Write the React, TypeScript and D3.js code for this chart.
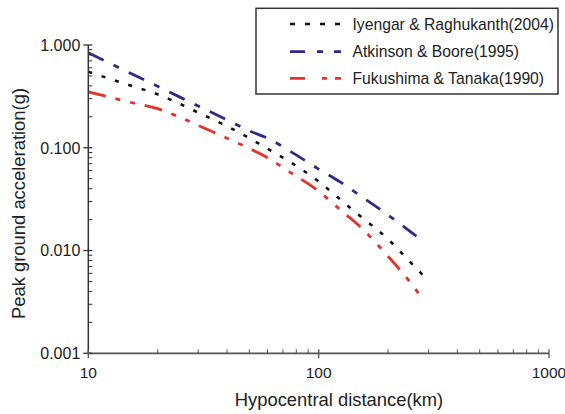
import React from "react";
import * as d3 from "d3";

const distances = [10, 12, 15, 20, 25, 30, 40, 50, 60, 75, 100, 125, 150, 200, 250, 285];
const iyengar = [0.55, 0.48, 0.408, 0.331, 0.267, 0.22, 0.162, 0.124, 0.098, 0.073, 0.047, 0.031, 0.022, 0.0129, 0.0077, 0.0057];
const atkinson = [0.84, 0.69, 0.54, 0.396, 0.311, 0.255, 0.187, 0.146, 0.124, 0.093, 0.062, 0.046, 0.0347, 0.0222, 0.0153, 0.0122];
const fukushima = [0.35, 0.316, 0.279, 0.24, 0.198, 0.165, 0.124, 0.0985, 0.08, 0.058, 0.0377, 0.0246, 0.0174, 0.0088, 0.0049, 0.0033];

const seriesNames = ["Iyengar & Raghukanth(2004)", "Atkinson & Boore(1995)", "Fukushima & Tanaka(1990)"];
const yTickValues = [0.001, 0.01, 0.1, 1];
const yTickLabels = ["0.001", "0.010", "0.100", "1.000"];
const xTickValues = [10, 100, 1000];
const xTickLabels = ["10", "100", "1000"];

const W = 565, H = 414;
const font = "'Liberation Sans', Arial, Helvetica, sans-serif";

export default function App() {
  const x = d3.scaleLog().domain([10, 1000]).range([88.3, 549]);
  const y = d3.scaleLog().domain([0.001, 1]).range([353.3, 45]);

  const series = [
    { name: seriesNames[0], values: iyengar, color: "#111111", dash: "4,10", width: 2.6 },
    { name: seriesNames[1], values: atkinson, color: "#2e2a8a", dash: "17,11,6,11", width: 2.8 },
    { name: seriesNames[2], values: fukushima, color: "#e5322b", dash: "18,10,5,10,5,10", width: 2.8 },
  ];

  const line = d3
    .line<[number, number]>()
    .x((d) => x(d[0]))
    .y((d) => y(d[1]))
    .curve(d3.curveMonotoneX);

  const minorX: number[] = [];
  for (const dec of [10, 100]) for (let k = 2; k <= 9; k++) minorX.push(dec * k);
  const minorY: number[] = [];
  for (const dec of [0.001, 0.01, 0.1]) for (let k = 2; k <= 9; k++) minorY.push(dec * k);

  const axisColor = "#555";
  const x0 = x(10);
  const y0 = y(0.001);

  return (
    <svg width={W} height={H} style={{ position: "absolute", left: 0, top: 0, background: "#fff" }} fontFamily={font}>
      {series.map((s) => (
        <path
          key={s.name}
          d={line(distances.map((d, i) => [d, s.values[i]] as [number, number])) || ""}
          fill="none"
          stroke={s.color}
          strokeWidth={s.width}
          strokeDasharray={s.dash}
        />
      ))}

      <line x1={x0} x2={x0} y1={y(1)} y2={y0} stroke="#333" strokeWidth={1.5} />
      <line x1={x0} x2={x(1000)} y1={y0} y2={y0} stroke={axisColor} strokeWidth={1.8} />

      {yTickValues.map((v, i) => (
        <g key={"yt" + v}>
          <line x1={x0 - 5} x2={x0 + 4} y1={y(v)} y2={y(v)} stroke="#333" strokeWidth={1.3} />
          <text x={x0 - 8} y={y(v)} dy="0.36em" textAnchor="end" fontSize={16} fill="#222">
            {yTickLabels[i]}
          </text>
        </g>
      ))}
      {minorY.map((v) => (
        <line key={"ym" + v} x1={x0} x2={x0 + 4} y1={y(v)} y2={y(v)} stroke="#333" strokeWidth={1} />
      ))}

      {xTickValues.map((v, i) => (
        <g key={"xt" + v}>
          <line x1={x(v)} x2={x(v)} y1={y0 - 4} y2={y0 + 5} stroke={axisColor} strokeWidth={1.3} />
          <text x={x(v)} y={y0 + 25} textAnchor="middle" fontSize={15.5} fill="#222">
            {xTickLabels[i]}
          </text>
        </g>
      ))}
      {minorX.map((v) => (
        <line key={"xm" + v} x1={x(v)} x2={x(v)} y1={y0 - 4} y2={y0} stroke={axisColor} strokeWidth={1} />
      ))}

      <text x={339} y={406} textAnchor="middle" fontSize={18.4} fill="#222">
        Hypocentral distance(km)
      </text>
      <text transform={`translate(25, ${203.5}) rotate(-90)`} textAnchor="middle" fontSize={18.4} fill="#222">
        Peak ground acceleration(g)
      </text>

      <rect x={256} y={8.3} width={302} height={85.7} fill="#fff" stroke="#333" strokeWidth={1.5} />
      {series.map((s, i) => {
        const ly = [24, 51.7, 78.3][i];
        return (
          <g key={"lg" + i}>
            <line x1={290} x2={341} y1={ly} y2={ly} stroke={s.color} strokeWidth={s.width} strokeDasharray={i === 0 ? "5,10" : i === 1 ? "15,12,6,11" : "15,17,5,8"} />
            <text x={352.5} y={ly} dy="0.36em" fontSize={15.7} fill="#222">
              {s.name}
            </text>
          </g>
        );
      })}
    </svg>
  );
}
